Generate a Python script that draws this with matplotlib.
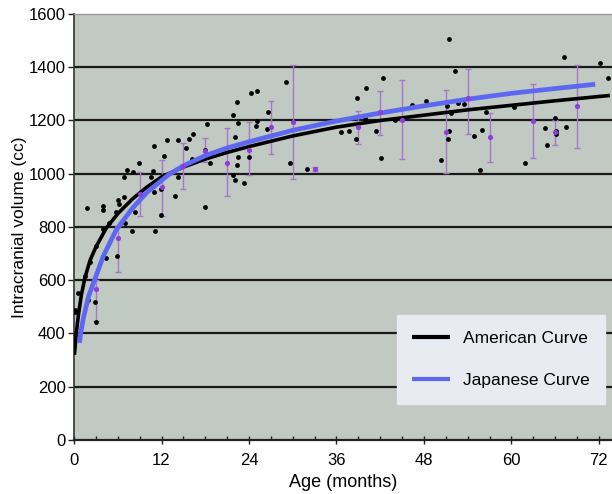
import matplotlib
matplotlib.use("Agg")
import matplotlib.pyplot as plt
from matplotlib.ticker import MultipleLocator

plt.rcParams['font.family'] = ['Liberation Sans', 'DejaVu Sans']

# ---- Data ----
# American curve (black) sample points
am_age = [0.05, 0.3, 0.6, 1.0, 1.5, 2.2, 3.0, 4.4, 6.0, 8.0, 10.0, 12.0, 15.0, 18.0,
          21.0, 24.0, 30.0, 36.0, 42.0, 48.0, 54.0, 60.0, 66.0, 73.5]
am_vol = [320, 400, 470, 545, 610, 675, 725, 795, 850, 905, 950, 988, 1025, 1055,
          1080, 1102, 1142, 1175, 1200, 1220, 1240, 1257, 1274, 1294]

# Japanese curve (blue) sample points
jp_age = [0.75, 0.9, 1.3, 2.0, 2.8, 4.0, 5.8, 8.0, 10.0, 12.9, 15.0, 18.0, 21.0, 24.0,
          30.0, 36.0, 42.0, 48.0, 54.0, 60.0, 66.0, 71.5]
jp_vol = [365, 400, 460, 540, 600, 690, 790, 870, 930, 995, 1030, 1068, 1097, 1120,
          1163, 1198, 1228, 1255, 1280, 1302, 1320, 1336]

# Individual (American) measurements, black dots
pt_age = [10.93, 8.91, 7.27, 8.09, 6.86, 10.52, 10.83, 10.97, 1.78, 3.98, 3.98, 6.09,
          6.17, 6.82, 8.32, 7.0, 8.01, 11.07, 5.86, 4.39, 1.92, 2.88, 3.07, 0.1, 0.16,
          0.55, 1.47, 2.24, 3.07, 3.98, 4.8, 5.72,
          22.41, 21.76, 18.29, 22.49, 16.28, 15.83, 12.71, 14.26, 15.41, 17.92, 12.4,
          22.04, 22.49, 16.18, 18.65, 22.31, 21.8, 22.04, 23.27, 14.26, 11.99, 13.91,
          17.92, 11.89,
          29.13, 24.23, 25.1, 26.6, 25.1, 25.01, 26.43, 24.05, 29.62, 31.95,
          42.38, 40.1, 38.81, 48.33, 46.41, 36.67, 37.67, 39.96, 43.98, 41.47, 38.73, 42.16,
          51.39, 52.21, 51.21, 51.76, 52.66, 53.44, 56.46, 60.34, 51.43, 51.29, 54.82,
          56.01, 50.29, 55.73,
          67.2, 72.09, 73.23, 66.02, 64.55, 67.53, 66.16, 66.16, 64.87, 61.81]
pt_vol = [1106, 1040, 1013, 1008, 986, 986, 1011, 931, 871, 878, 864, 903,
          887, 912, 856, 815, 785, 785, 692, 683, 527, 517, 443, 490, 479,
          553, 616, 667, 730, 792, 814, 856,
          1271, 1220, 1185, 1189, 1148, 1132, 1128, 1125, 1097, 1088, 1067,
          1139, 1063, 1056, 1042, 1031, 996, 975, 966, 987, 941, 917,
          875, 845,
          1346, 1302, 1311, 1230, 1199, 1180, 1167, 1063, 1042, 1019,
          1359, 1321, 1283, 1274, 1260, 1155, 1160, 1208, 1201, 1160, 1132, 1060,
          1507, 1386, 1254, 1227, 1264, 1262, 1233, 1252, 1160, 1132, 1142,
          1166, 1050, 1015,
          1438, 1415, 1361, 1211, 1170, 1176, 1160, 1151, 1107, 1042]

# Japanese group means with ranges (purple)
jm_age = [3, 6, 9, 12, 15, 18, 21, 24, 27, 30, 33, 39, 42, 45, 51, 54, 57, 63, 66, 69]
jm_mean = [566, 759, 923, 950, 1030, 1084, 1042, 1088, 1176, 1195, 1017, 1176, 1233,
           1201, 1157, 1283, 1139, 1198, 1157, 1255]
jm_low = [446, 631, 840, 843, 941, 1045, 916, 994, 1076, 981, 1010, 1113, 1145,
          1054, 1004, 1151, 1044, 1059, 1107, 1097]
jm_high = [600, 805, 1006, 1050, 1117, 1135, 1170, 1195, 1274, 1407, 1024, 1237, 1312,
           1352, 1315, 1393, 1229, 1336, 1200, 1409]

x_ticks = [0, 12, 24, 36, 48, 60, 72]
y_ticks = [0, 200, 400, 600, 800, 1000, 1200, 1400, 1600]

# ---- Figure ----
fig = plt.figure(figsize=(6.12, 4.94), dpi=100)
ax = fig.add_axes([0.121, 0.1093, 0.879, 0.8624])
ax.set_facecolor('#c1c9c3')

for y in y_ticks[1:-1]:
    ax.axhline(y, color='#1a1a1a', lw=1.6, zorder=1)

yerr = [[m - lo for m, lo in zip(jm_mean, jm_low)],
        [hi - m for m, hi in zip(jm_mean, jm_high)]]
ax.errorbar(jm_age, jm_mean, yerr=yerr, fmt='none', ecolor='#a679c8', elinewidth=1.0,
            capsize=2.5, capthick=1.0, zorder=2)

ax.scatter(pt_age, pt_vol, s=12, color='black', zorder=3, linewidths=0)

ax.plot(am_age, am_vol, color='black', lw=2.6, zorder=4, label='American Curve',
        solid_capstyle='butt')
ax.plot(jp_age, jp_vol, color='#5d68f2', lw=3.4, zorder=5, label='Japanese Curve',
        solid_capstyle='butt')

ax.scatter(jm_age, jm_mean, s=14, color='#8e3fd6', zorder=6, linewidths=0)

ax.set_xlim(0, 73.8)
ax.set_ylim(0, 1600)
ax.set_xticks(x_ticks)
ax.set_yticks(y_ticks)
ax.xaxis.set_minor_locator(MultipleLocator(3))
ax.tick_params(axis='x', which='major', direction='inout', length=6, width=1,
               labelsize=12, pad=6.5, color='#222222')
ax.tick_params(axis='x', which='minor', direction='in', length=3, width=1, color='#222222')
ax.tick_params(axis='y', which='major', direction='out', length=4, width=1,
               labelsize=12, pad=2, color='#222222')

ax.spines['right'].set_visible(False)
ax.spines['top'].set_color('#9a9a9a')
ax.spines['top'].set_linewidth(1.0)
ax.spines['left'].set_color('#333333')
ax.spines['left'].set_linewidth(1.2)
ax.spines['bottom'].set_color('#222222')
ax.spines['bottom'].set_linewidth(1.6)

ax.set_xlabel('Age (months)', fontsize=13, labelpad=4)
ax.set_ylabel('Intracranial volume (cc)', fontsize=12.5, labelpad=1.5)

leg = ax.legend(loc='lower right', bbox_to_anchor=(0.987, 0.0845), fontsize=12.5,
                frameon=True, fancybox=False, framealpha=1.0, facecolor='#e9ebf2',
                edgecolor='#e9ebf2', handlelength=2.2, handletextpad=0.7,
                labelspacing=1.57, borderpad=0.9, borderaxespad=0)
for line in leg.get_lines():
    line.set_linewidth(3)

fig.savefig('out.png', dpi=100)
